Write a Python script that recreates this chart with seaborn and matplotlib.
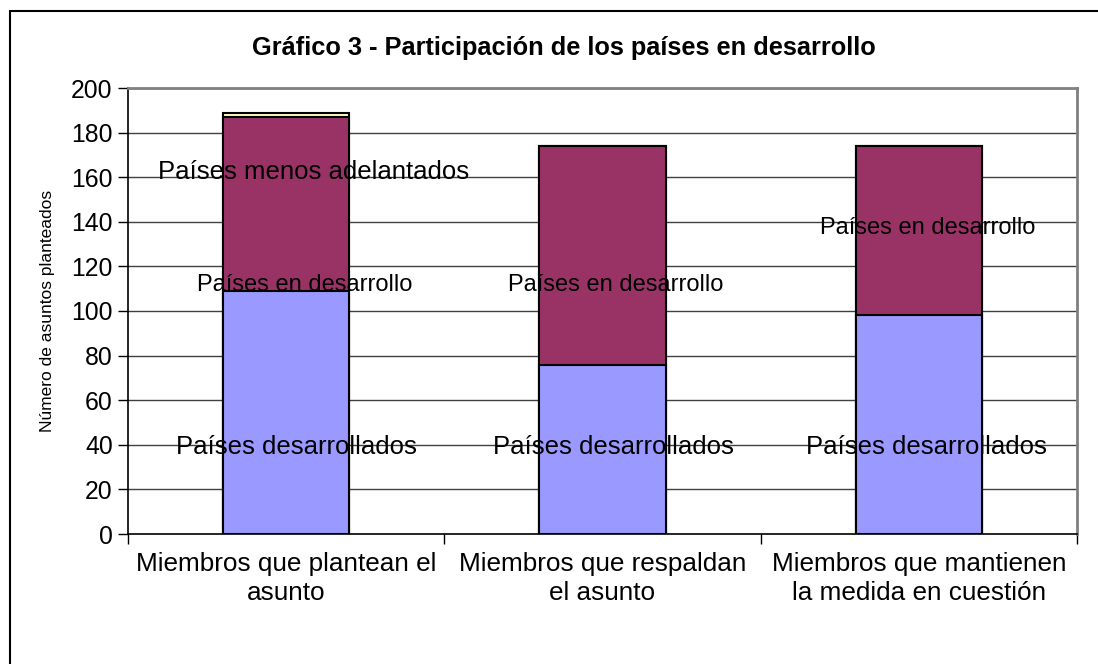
import numpy as np
import pandas as pd
import seaborn as sns
import matplotlib.pyplot as plt
from matplotlib.patches import Rectangle

# --- data ---
categories = ['Miembros que plantean el\nasunto',
              'Miembros que respaldan\nel asunto',
              'Miembros que mantienen\nla medida en cuestión']
desarrollados = [109, 76, 98]
en_desarrollo = [78, 98, 76]
menos_adelantados = [2, 0, 0]

series_names = ['Países desarrollados', 'Países en desarrollo', 'Países menos adelantados']
series_colors = ['#9999FF', '#993366', '#FFFFCC']

# label positions (category offset, value) as placed in the original chart
label_text = ['Países menos adelantados', 'Países en desarrollo', 'Países desarrollados',
              'Países en desarrollo', 'Países desarrollados',
              'Países en desarrollo', 'Países desarrollados']
label_cat = [0, 0, 0, 1, 1, 2, 2]
label_dx = [0.088, 0.06, 0.034, 0.043, 0.033, 0.029, 0.023]
label_y = [162.3, 111.7, 39, 111.7, 39, 137.2, 39]
label_size = [18.5, 17, 18.5, 17, 18.5, 17, 18.5]

yticks = list(range(0, 201, 20))

# --- build stacked tops ---
df = pd.DataFrame({'cat': categories,
                   'dev': desarrollados,
                   'ing': en_desarrollo,
                   'least': menos_adelantados})
df['top_dev'] = df['dev']
df['top_ing'] = df['dev'] + df['ing']
df['top_least'] = df['top_ing'] + df['least']

sns.set_style('white')
plt.rcParams['font.family'] = ['Liberation Sans', 'DejaVu Sans']
for key in ['text.color', 'axes.labelcolor', 'xtick.color', 'ytick.color']:
    plt.rcParams[key] = 'black'

fig = plt.figure(figsize=(10.98, 6.64), dpi=100)
ax = fig.add_axes([128 / 1098, 1 - 534 / 664, (1077 - 128) / 1098, (534 - 88) / 664])

# outer frame of the chart area
fig.patches.append(Rectangle((10 / 1098, -0.02), 1.0, 1 - 11 / 664 + 0.02,
                             transform=fig.transFigure, fill=False,
                             edgecolor='black', linewidth=1.5, zorder=0))

# horizontal gridlines behind bars
for v in yticks[1:]:
    ax.axhline(v, color='#404040', linewidth=1, zorder=0)

# draw from the tallest cumulative layer down so each shows its own segment
for col, color in zip(['top_least', 'top_ing', 'top_dev'], series_colors[::-1]):
    sns.barplot(data=df, x='cat', y=col, color=color, width=0.4,
                edgecolor='black', linewidth=1.5, ax=ax, zorder=2,
                saturation=1)

for txt, c, dx, y, fs in zip(label_text, label_cat, label_dx, label_y, label_size):
    ax.text(c + dx, y, txt, ha='center', va='center', fontsize=fs,
            color='black', zorder=3)

ax.set_xlim(-0.5, 2.5)
ax.set_ylim(0, 200)
ax.set_yticks(yticks)
ax.tick_params(axis='y', labelsize=17.8, length=7, width=1, direction='out',
               left=True, pad=4)
ax.set_xticks([0, 1, 2])
ax.set_xticklabels(categories, fontsize=18.8, linespacing=1.25)
ax.tick_params(axis='x', which='major', length=0, pad=13)
ax.set_xticks([-0.5, 0.5, 1.5, 2.5], minor=True)
ax.tick_params(axis='x', which='minor', length=7, width=1, direction='out', bottom=True)

ax.set_xlabel('')
ax.set_ylabel('Número de asuntos planteados', fontsize=12.5, labelpad=12)

for side in ['top', 'right']:
    ax.spines[side].set_visible(True)
    ax.spines[side].set_color('#808080')
    ax.spines[side].set_linewidth(2)
ax.spines['left'].set_color('black')
ax.spines['bottom'].set_color('black')
ax.spines['left'].set_linewidth(1.2)
ax.spines['bottom'].set_linewidth(1.2)

fig.text(564 / 1098, 1 - 48 / 664, 'Gráfico 3 - Participación de los países en desarrollo',
         ha='center', va='center', fontsize=18.3, fontweight='bold')

fig.savefig('out.png', dpi=100)
